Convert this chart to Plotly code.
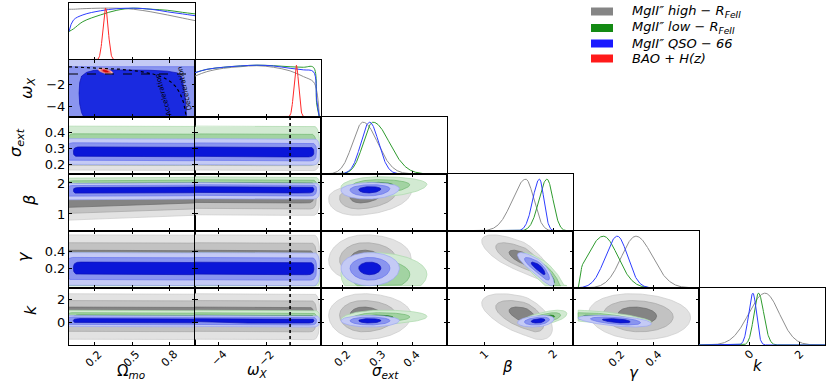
import numpy as np
import plotly.graph_objects as go

# ============================ DATA ============================
PARAM_TITLES = ["Ω<sub><i>mo</i></sub>", "<i>ω<sub>X</sub></i>", "<i>σ<sub>ext</sub></i>",
                "<i>β</i>", "<i>γ</i>", "<i>k</i>"]
AXIS_RANGES = [[0.0, 1.0], [-5.0, 0.3], [0.137, 0.5], [0.45, 2.29], [-0.04, 0.645], [-2.0, 3.0]]
TICK_VALS = [[0.2, 0.5, 0.8], [-4, -2], [0.2, 0.3, 0.4], [1, 2], [0.2, 0.4], [0, 2]]
TICK_TEXT = [["0.2", "0.5", "0.8"], ["−4", "−2"], ["0.2", "0.3", "0.4"], ["1", "2"], ["0.2", "0.4"], ["0", "2"]]

SERIES = ["high", "low", "qso"]
LEGEND_KEYS = ["high", "low", "qso", "bao"]
LEGEND_LABELS = ["<i>MgII″ high − R<sub>FeII</sub></i>", "<i>MgII″ low − R<sub>FeII</sub></i>",
                 "<i>MgII″ QSO − 66</i>", "<i>BAO + H(z)</i>"]

# 1D marginal of Omega_m0 (peak = 1)
om_grid = [0.0, 0.035, 0.11, 0.25, 0.38, 0.51, 0.65, 0.78, 0.9, 1.0]
om_pdf_high = [0.98, 0.98, 0.99, 1.0, 1.0, 0.98, 0.93, 0.87, 0.81, 0.76]
om_pdf_low = [0.55, 0.60, 0.74, 0.87, 0.96, 1.0, 0.98, 0.96, 0.92, 0.89]
om_pdf_qso = [0.55, 0.77, 0.87, 0.95, 0.99, 1.0, 0.98, 0.93, 0.89, 0.855]

# 1D marginal of omega_X (peak = 1)
wx_grid = [-5.0, -4.5, -3.8, -3.1, -2.4, -1.7, -1.0, -0.44, -0.02, 0.12, 0.23]
wx_pdf_high = [0.79, 0.875, 0.94, 0.97, 0.99, 0.96, 0.89, 0.78, 0.68, 0.50, 0.0]
wx_pdf_low = [0.855, 0.92, 0.96, 0.985, 1.0, 0.99, 0.97, 0.96, 0.96, 0.25, 0.0]
wx_pdf_qso = [0.855, 0.92, 0.96, 0.985, 1.0, 0.985, 0.94, 0.91, 0.875, 0.33, 0.0]

# sigma_ext, beta, gamma, k : peak and lower / upper spread
high_mean = [0.258, 1.60, 0.302, 0.62]
high_sd_lo = [0.030, 0.195, 0.078, 0.65]
high_sd_hi = [0.042, 0.118, 0.090, 0.57]
low_mean = [0.287, 1.91, 0.125, 0.36]
low_sd_lo = [0.028, 0.116, 0.090, 0.18]
low_sd_hi = [0.047, 0.088, 0.079, 0.21]
qso_mean = [0.277, 1.80, 0.201, 0.14]
qso_sd_lo = [0.025, 0.097, 0.065, 0.17]
qso_sd_hi = [0.026, 0.065, 0.056, 0.14]
# correlations: (sig,beta) (sig,gam) (sig,k) (beta,gam) (beta,k) (gam,k)
high_corr = [0.2, 0.05, 0.0, -0.75, -0.55, -0.1]
low_corr = [0.15, 0.0, 0.2, -0.85, 0.55, -0.6]
qso_corr = [0.1, 0.0, 0.0, -0.85, 0.3, -0.5]
gamma_floor = [-0.012, 0.008]

# beta trend with Omega_m0 (offset of beta at Omega_m0 = 0, spread factor there)
beta_om_shift = [-0.13, -0.04, -0.03]
beta_om_widen = [0.05, 0.0, 0.0]

# BAO + H(z) in (Omega_m0, omega_X)
bao_mean = [0.29, -0.74]
bao_sd = [0.021, 0.10]
bao_corr = -0.6

# QSO-66 inner region in the Omega_m0 - omega_X plane
qso_omwx_in_om = [0.13, 0.10, 0.085, 0.08, 0.085, 0.10, 0.14, 0.20, 0.35, 0.50, 0.65, 0.78, 0.86, 0.895, 0.91, 0.925, 0.935]
qso_omwx_in_wx = [-5.3, -4.6, -3.8, -2.8, -1.8, -1.2, -0.85, -0.66, -0.62, -0.63, -0.66, -0.74, -0.9, -1.3, -2.2, -3.5, -5.3]
qso_omwx_mid_top = -0.32

# band extents on the unconstrained axes (outer, mid, inner)
om_band_start = {"high": [-0.3, -0.3, -0.3], "low": [-0.3, -0.02, 0.03], "qso": [-0.3, -0.02, 0.035]}
wx_band_end = [0.24, 0.11, 0.0]
w_reference = -1.0

LEVEL_R = [3.3, 2.25, 1.25]

# ============================ STYLE ============================
FILL = {"high": ["#e2e2e2", "#c2c2c2", "#848484"],
        "low": ["#d2ead2", "#a2d3a2", "#2c8f2c"],
        "qso": ["#c4caf5", "#8a95ef", "#0a16d8"],
        "bao": ["#f7b8b8", "#f07575", "#e00a0a"]}
EDGE = {"high": ["#cacaca", "#a6a6a6", "#6c6c6c"],
        "low": ["#aad8aa", "#70b870", "#1f7a1f"],
        "qso": ["#9ca6f3", "#6673ee", "#0a10b8"],
        "bao": ["#f09090", "#e85050", "#c00000"]}
LINE = {"high": "#8f8f8f", "low": "#2e9b2e", "qso": "#2d3dff", "bao": "#ff2a2a"}
SWATCH = {"high": "#858585", "low": "#138a13", "qso": "#1a1aff", "bao": "#ff1a1a"}
FONT = "DejaVu Sans"

W, H = 831, 382
LEFT, TOP, CW, RH = 69, 3, 126, 57
N = 6

MEAN = {"high": high_mean, "low": low_mean, "qso": qso_mean}
SDLO = {"high": high_sd_lo, "low": low_sd_lo, "qso": qso_sd_lo}
SDHI = {"high": high_sd_hi, "low": low_sd_hi, "qso": qso_sd_hi}
CORR = {"high": high_corr, "low": low_corr, "qso": qso_corr}
OM_PDF = {"high": om_pdf_high, "low": om_pdf_low, "qso": om_pdf_qso}
WX_PDF = {"high": wx_pdf_high, "low": wx_pdf_low, "qso": wx_pdf_qso}
PAIR = {(0, 1): 0, (0, 2): 1, (0, 3): 2, (1, 2): 3, (1, 3): 4, (2, 3): 5}

fig = go.Figure()
axid = {}
n = 0
for i in range(N):
    for j in range(i + 1):
        n += 1
        axid[(i, j)] = n


def refs(i, j):
    k = axid[(i, j)]
    s = "" if k == 1 else str(k)
    return "x" + s, "y" + s


def add(i, j, tr):
    xr, yr = refs(i, j)
    tr.update(xaxis=xr, yaxis=yr)
    fig.add_trace(tr)


def fill_tr(x, y, fc, lc, lw=0.7):
    return go.Scatter(x=x, y=y, mode="lines", fill="toself", fillcolor=fc,
                      line=dict(color=lc, width=lw), hoverinfo="skip", showlegend=False)


def line_tr(x, y, color, width=1.0, dash=None, shape="linear"):
    return go.Scatter(x=x, y=y, mode="lines", line=dict(color=color, width=width, dash=dash, shape=shape),
                      hoverinfo="skip", showlegend=False)


def split_gauss(x, mu, lo, hi):
    x = np.asarray(x, float)
    s = np.where(x < mu, lo, hi)
    return np.exp(-0.5 * ((x - mu) / s) ** 2)


def ellipse(mx, my, lox, hix, loy, hiy, rho, r, m=200):
    t = np.linspace(0, 2 * np.pi, m)
    u = r * np.cos(t)
    v = r * (rho * np.cos(t) + np.sqrt(1 - rho ** 2) * np.sin(t))
    return mx + u * np.where(u > 0, hix, lox), my + v * np.where(v > 0, hiy, loy)


def band(xa, xb, rx, yc, up, dn, nexp=3.0, m=60):
    p = 2.0 / nexp
    xs = np.linspace(xa + rx, xb - rx, m)
    ph = np.linspace(np.pi / 2, -np.pi / 2, 40)
    cx = xb - rx
    s = np.sin(ph)
    xr_ = cx + rx * np.abs(np.cos(ph)) ** p
    yr_ = yc(cx) + np.sign(s) * np.abs(s) ** p * np.where(s > 0, up(cx), dn(cx))
    ph2 = np.linspace(-np.pi / 2, np.pi / 2, 40)
    cl = xa + rx
    s2 = np.sin(ph2)
    xl_ = cl - rx * np.abs(np.cos(ph2)) ** p
    yl_ = yc(cl) + np.sign(s2) * np.abs(s2) ** p * np.where(s2 > 0, up(cl), dn(cl))
    X = np.concatenate([xs, xr_, xs[::-1], xl_])
    Y = np.concatenate([yc(xs) + up(xs), yr_, yc(xs[::-1]) - dn(xs[::-1]), yl_])
    return X, Y


# ---------------- 1D diagonal panels ----------------
for d in SERIES:
    add(0, 0, line_tr(om_grid, OM_PDF[d], LINE[d], shape="spline"))
xg = np.linspace(0, 1, 400)
add(0, 0, line_tr(xg, split_gauss(xg, bao_mean[0], bao_sd[0], bao_sd[0]), LINE["bao"]))

for d in SERIES:
    add(1, 1, line_tr(wx_grid, WX_PDF[d], LINE[d], shape="spline"))
xg = np.linspace(-5, 0.3, 400)
add(1, 1, line_tr(xg, split_gauss(xg, bao_mean[1], bao_sd[1], bao_sd[1]), LINE["bao"]))

for p in range(4):
    i = p + 2
    lo_r, hi_r = AXIS_RANGES[i]
    xg = np.linspace(lo_r, hi_r, 500)
    for d in SERIES:
        yv = split_gauss(xg, MEAN[d][p], SDLO[d][p], SDHI[d][p])
        if p == 2:
            yv = yv * np.clip((xg - gamma_floor[0]) / (gamma_floor[1] - gamma_floor[0]), 0, 1)
        add(i, i, line_tr(xg, yv, LINE[d]))

# ---------------- Omega_m0 - omega_X panel ----------------
add(1, 0, fill_tr([-0.2, -0.2, 1.2, 1.2], [-6, 1, 1, -6], FILL["qso"][0], FILL["qso"][0], 0))
add(1, 0, fill_tr([-0.2, -0.2, 1.2, 1.2], [-6, qso_omwx_mid_top, qso_omwx_mid_top, -6],
                  FILL["qso"][1], EDGE["qso"][1], 0.7))
add(1, 0, fill_tr(qso_omwx_in_om, qso_omwx_in_wx, "#1a2ae0", "#0a10b8", 0.7))
for l, r in enumerate(LEVEL_R):
    ex, ey = ellipse(bao_mean[0], bao_mean[1], bao_sd[0], bao_sd[0], bao_sd[1], bao_sd[1], bao_corr, r * 0.85)
    add(1, 0, fill_tr(ex, ey, FILL["bao"][l], EDGE["bao"][l], 0.6))
omq = np.linspace(0.0, 0.94, 200)
add(1, 0, line_tr(omq, -1.0 / (3.0 * (1.0 - omq)), "black", 1.2, "dot"))

# ---------------- bands vs unconstrained params ----------------
for p in range(4):
    i = p + 2
    for j in (0, 1):
        for si, d in enumerate(SERIES):
            mu, lo, hi = MEAN[d][p], SDLO[d][p], SDHI[d][p]
            for l, r in enumerate(LEVEL_R):
                if j == 0:
                    sh = beta_om_shift[si] if p == 1 else 0.0
                    wd = beta_om_widen[si] if p == 1 else 0.0
                    yc = lambda x, mu=mu, sh=sh: mu + sh * (1 - np.asarray(x))
                    up = lambda x, r=r, hi=hi, wd=wd: r * hi * (1 + wd * (1 - np.asarray(x)))
                    dn = lambda x, r=r, lo=lo, wd=wd: r * lo * (1 + wd * (1 - np.asarray(x)))
                    X, Y = band(om_band_start[d][l], 1.5, 0.06, yc, up, dn)
                else:
                    yc = lambda x, mu=mu: mu + 0 * np.asarray(x)
                    up = lambda x, r=r, hi=hi: r * hi + 0 * np.asarray(x)
                    dn = lambda x, r=r, lo=lo: r * lo + 0 * np.asarray(x)
                    X, Y = band(-6.0, wx_band_end[l], 0.3, yc, up, dn)
                if p == 2:
                    Y = np.maximum(Y, gamma_floor[0])
                add(i, j, fill_tr(X, Y, FILL[d][l], EDGE[d][l]))

# ---------------- 2D ellipses ----------------
for b in range(1, 4):
    for a in range(b):
        i, j = b + 2, a + 2
        for d in SERIES:
            rho = CORR[d][PAIR[(a, b)]]
            for l, r in enumerate(LEVEL_R):
                ex, ey = ellipse(MEAN[d][a], MEAN[d][b], SDLO[d][a], SDHI[d][a], SDLO[d][b], SDHI[d][b], rho, r)
                if a == 2:
                    ex = np.maximum(ex, gamma_floor[0])
                if b == 2:
                    ey = np.maximum(ey, gamma_floor[0])
                add(i, j, fill_tr(ex, ey, FILL[d][l], EDGE[d][l]))

# ---------------- axes ----------------
layout = {}
tickfont = dict(family=FONT, size=13, color="black")
for (i, j), k in axid.items():
    s = "" if k == 1 else str(k)
    xd = [(LEFT + CW * j) / W, (LEFT + CW * (j + 1)) / W]
    yd = [1 - (TOP + RH * (i + 1)) / H, 1 - (TOP + RH * i) / H]
    layout["xaxis" + s] = dict(domain=xd, range=AXIS_RANGES[j], anchor="y" + s, showline=True,
                               linecolor="black", linewidth=1, mirror="ticks" if i != j else True,
                               ticks="inside", ticklen=3, tickcolor="black",
                               tickvals=TICK_VALS[j], ticktext=TICK_TEXT[j],
                               showticklabels=False, showgrid=False, zeroline=False, fixedrange=True)
    if i == j:
        layout["yaxis" + s] = dict(domain=yd, range=[0, 1.1], anchor="x" + s, showline=True,
                                   linecolor="black", linewidth=1, mirror=True, ticks="",
                                   showticklabels=False, showgrid=False, zeroline=False)
    else:
        layout["yaxis" + s] = dict(domain=yd, range=AXIS_RANGES[i], anchor="x" + s, showline=True,
                                   linecolor="black", linewidth=1, mirror="ticks", ticks="inside",
                                   ticklen=3, tickcolor="black", tickvals=TICK_VALS[i],
                                   ticktext=TICK_TEXT[i], showticklabels=(j == 0), tickfont=tickfont,
                                   showgrid=False, zeroline=False)

shapes = []
for i in range(2, 6):
    xr, yr = refs(i, 1)
    shapes.append(dict(type="line", xref=xr, yref=yr + " domain", x0=w_reference, x1=w_reference, y0=0, y1=1,
                       line=dict(color="black", width=1.6, dash="dot")))
xr, yr = refs(1, 0)
shapes.append(dict(type="line", xref=xr + " domain", yref=yr, x0=0, x1=1, y0=w_reference, y1=w_reference,
                   line=dict(color="black", width=1.1, dash="dash")))

annotations = []
annotations.append(dict(x=0.75, y=-2.95, xref=xr, yref=yr, text="Acceleration", showarrow=False,
                        textangle=-106, font=dict(family=FONT, size=7, color="black")))
annotations.append(dict(x=0.915, y=-2.35, xref=xr, yref=yr, text="Deceleration", showarrow=False,
                        textangle=-103, font=dict(family=FONT, size=7, color="black")))

# rotated x tick labels of the bottom row, centred under their ticks
for j in range(N):
    xr, _ = refs(N - 1, j)
    for v, t in zip(TICK_VALS[j], TICK_TEXT[j]):
        annotations.append(dict(x=v, xref=xr, y=1 - 345 / H, yref="paper", text=t, showarrow=False,
                                textangle=-45, xanchor="center", yanchor="top",
                                font=dict(family=FONT, size=11, color="black")))

# legend (manual)
leg_y = [11.5, 28, 43.5, 58.5]
for key, lab, yc in zip(LEGEND_KEYS, LEGEND_LABELS, leg_y):
    shapes.append(dict(type="rect", xref="paper", yref="paper", x0=591 / W, x1=613 / W,
                       y0=1 - (yc + 4) / H, y1=1 - (yc - 4) / H, fillcolor=SWATCH[key], line=dict(width=0)))
    annotations.append(dict(x=630 / W, y=1 - yc / H, xref="paper", yref="paper", text=lab, showarrow=False,
                            xanchor="left", yanchor="middle", font=dict(family=FONT, size=13, color="black")))

# axis titles
xt_pos = [(131, 371), (257, 370), (385, 371), (507, 367), (634, 373), (758, 366)]
for t, (px, py) in zip(PARAM_TITLES, xt_pos):
    annotations.append(dict(x=px / W, y=1 - py / H, xref="paper", yref="paper", text=t, showarrow=False,
                            xanchor="center", yanchor="middle", font=dict(family=FONT, size=15, color="black")))
yt_pos = [(27, 88), (16, 143), (29, 201), (23, 257), (30, 310)]
for t, (px, py) in zip(PARAM_TITLES[1:], yt_pos):
    annotations.append(dict(x=px / W, y=1 - py / H, xref="paper", yref="paper", text=t, showarrow=False,
                            textangle=-90, xanchor="center", yanchor="middle",
                            font=dict(family=FONT, size=16, color="black")))

fig.update_layout(width=W, height=H, margin=dict(l=0, r=0, t=0, b=0, autoexpand=False),
                  paper_bgcolor="white", plot_bgcolor="white", showlegend=False,
                  shapes=shapes, annotations=annotations, **layout)
fig.write_html("out.html", config={"displayModeBar": False},
               post_script="document.body.style.margin='0';document.body.style.overflow='hidden';")
